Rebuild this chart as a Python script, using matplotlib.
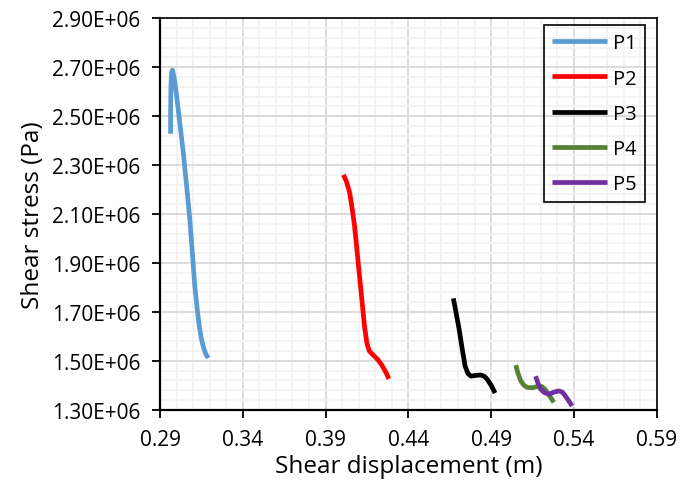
import numpy as np
import matplotlib.pyplot as plt
from matplotlib.ticker import FixedLocator, FuncFormatter

plt.rcParams['font.family'] = ['Open Sans', 'DejaVu Sans']

# Shear displacement (m) and shear stress (Pa)
p1_x = [0.2964, 0.2964, 0.2966, 0.2970, 0.2975, 0.2985, 0.3000, 0.3020, 0.3040, 0.3060,
        0.3080, 0.3095, 0.3110, 0.3125, 0.3137, 0.3150, 0.3161, 0.3175, 0.3191]
p1_y = [2.428e6, 2.520e6, 2.620e6, 2.680e6, 2.688e6, 2.660e6, 2.585e6, 2.470e6, 2.354e6, 2.220e6,
        2.079e6, 1.945e6, 1.806e6, 1.710e6, 1.642e6, 1.590e6, 1.560e6, 1.530e6, 1.511e6]

p2_x = [0.4008, 0.4025, 0.4045, 0.4060, 0.4075, 0.4090, 0.4105, 0.4120, 0.4135, 0.4150,
        0.4165, 0.4190, 0.4215, 0.4240, 0.4255, 0.4270, 0.4282]
p2_y = [2.260e6, 2.235e6, 2.189e6, 2.125e6, 2.052e6, 1.950e6, 1.847e6, 1.745e6, 1.642e6, 1.570e6,
        1.539e6, 1.522e6, 1.505e6, 1.482e6, 1.464e6, 1.445e6, 1.426e6]

p3_x = [0.4672, 0.4690, 0.4707, 0.4725, 0.4743, 0.4760, 0.4778, 0.4805, 0.4837, 0.4860,
        0.4878, 0.4900, 0.4924]
p3_y = [1.755e6, 1.690e6, 1.628e6, 1.550e6, 1.478e6, 1.448e6, 1.437e6, 1.440e6, 1.442e6, 1.436e6,
        1.423e6, 1.400e6, 1.368e6]

p4_x = [0.5049, 0.5062, 0.5079, 0.5098, 0.5119, 0.5150, 0.5179, 0.5205, 0.5225, 0.5250, 0.5279]
p4_y = [1.482e6, 1.450e6, 1.418e6, 1.400e6, 1.391e6, 1.390e6, 1.395e6, 1.395e6, 1.384e6, 1.360e6, 1.330e6]

p5_x = [0.5169, 0.5182, 0.5199, 0.5222, 0.5249, 0.5280, 0.5309, 0.5330, 0.5349, 0.5370, 0.5389]
p5_y = [1.437e6, 1.410e6, 1.384e6, 1.370e6, 1.363e6, 1.372e6, 1.377e6, 1.372e6, 1.356e6, 1.335e6, 1.315e6]

x_ticks = [0.29, 0.34, 0.39, 0.44, 0.49, 0.54, 0.59]
y_ticks = [1.3e6, 1.5e6, 1.7e6, 1.9e6, 2.1e6, 2.3e6, 2.5e6, 2.7e6, 2.9e6]

series = [
    ('P1', p1_x, p1_y, '#5b9bd5'),
    ('P2', p2_x, p2_y, '#ff0000'),
    ('P3', p3_x, p3_y, '#000000'),
    ('P4', p4_x, p4_y, '#548235'),
    ('P5', p5_x, p5_y, '#7030a0'),
]

fig = plt.figure(figsize=(6.8, 4.89), dpi=100)
ax = fig.add_axes([0.2353, 0.1601, 0.7304, 0.8004])

for name, xs, ys, c in series:
    ax.plot(xs, ys, color=c, lw=3.4, label=name, solid_capstyle='butt', solid_joinstyle='round')

ax.set_xlim(0.29, 0.59)
ax.set_ylim(1.3e6, 2.9e6)
ax.xaxis.set_major_locator(FixedLocator(x_ticks))
ax.xaxis.set_minor_locator(FixedLocator(np.arange(0.29, 0.5901, 0.01)))
ax.yaxis.set_major_locator(FixedLocator(y_ticks))
ax.yaxis.set_minor_locator(FixedLocator(np.arange(1.3e6, 2.9001e6, 0.04e6)))
ax.xaxis.set_major_formatter(FuncFormatter(lambda v, p: f'{v:.2f}'))
ax.yaxis.set_major_formatter(FuncFormatter(lambda v, p: f'{v:.2E}'))

ax.grid(which='minor', color='#f2f2f2', lw=1.3)
ax.grid(which='major', color='#d9d9d9', lw=1.3)
ax.set_axisbelow(True)

ax.tick_params(which='major', direction='out', length=6, width=1.3, labelsize=15)
ax.tick_params(axis='y', pad=8)
ax.tick_params(axis='x', pad=8)
ax.tick_params(which='minor', length=0)
for s in ax.spines.values():
    s.set_color('black')
    s.set_linewidth(1.2)
ax.spines['left'].set_linewidth(1.6)
ax.spines['bottom'].set_linewidth(1.6)

ax.set_xlabel('Shear displacement (m)', fontsize=17.5, labelpad=3)
ax.set_ylabel('Shear stress (Pa)', fontsize=17.5, labelpad=5)

leg = ax.legend(loc='upper right', bbox_to_anchor=(0.976, 0.983), fontsize=14.5,
                handlelength=2.7, handletextpad=0.3, labelspacing=0.75, borderpad=0.42,
                borderaxespad=0, fancybox=False, facecolor='none', edgecolor='black')
leg.get_frame().set_linewidth(1.2)
leg.get_frame().set_alpha(None)

fig.savefig('out.png', dpi=100)
